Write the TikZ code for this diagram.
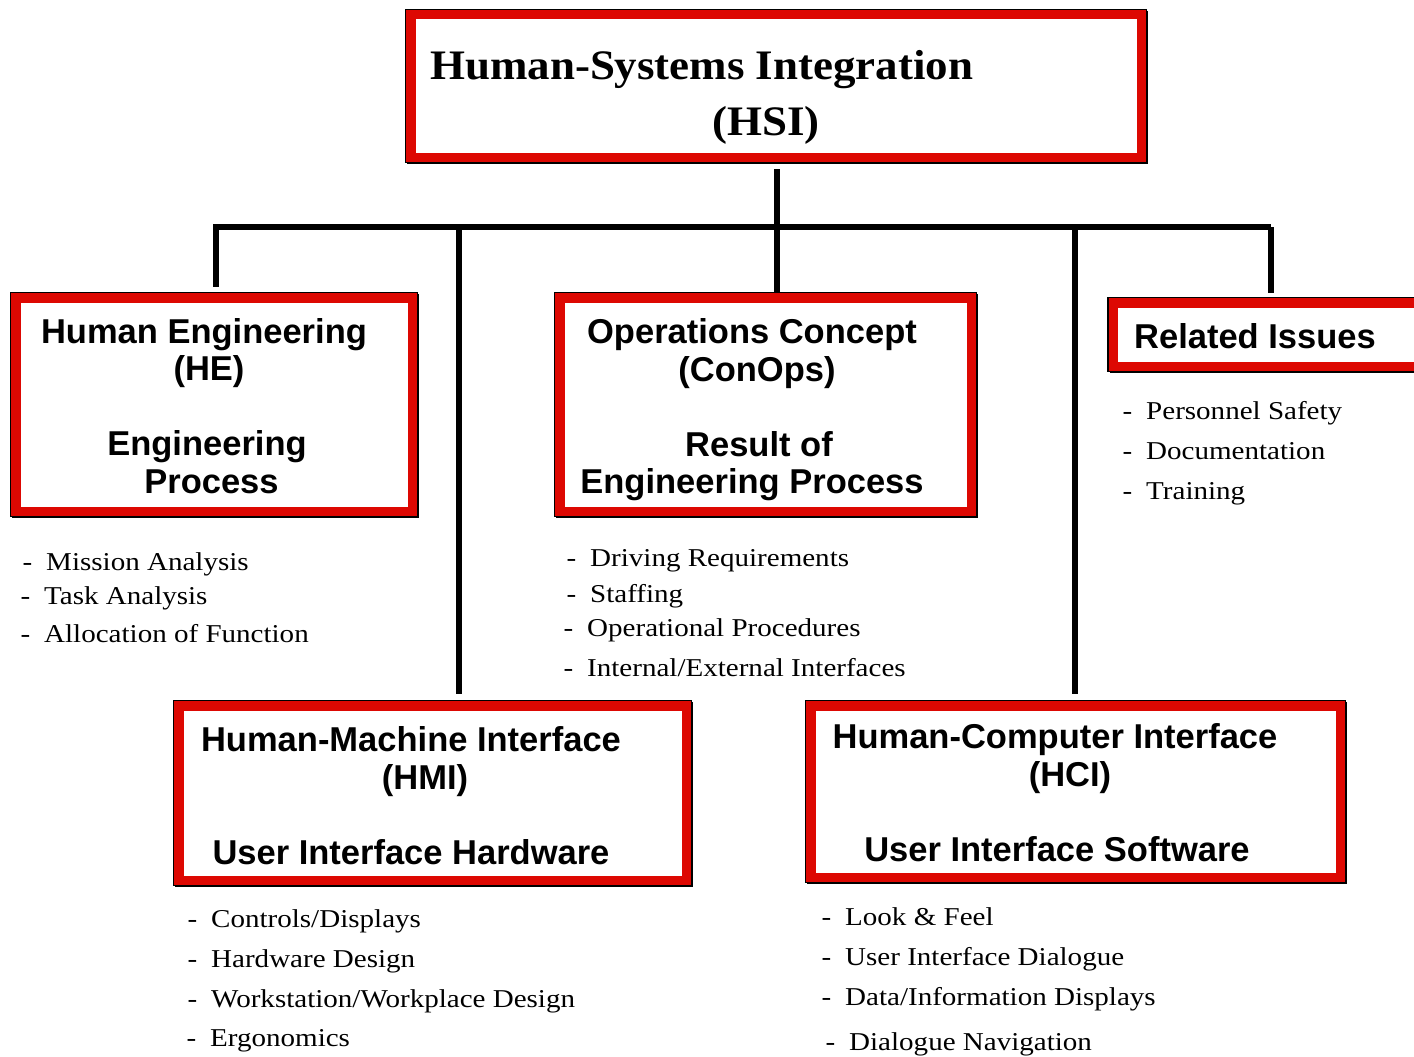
\documentclass[tikz,border=0pt]{standalone}
\usepackage{fontspec}
\setmainfont{Liberation Serif}
\setsansfont{Liberation Sans}
\newfontfamily\listserif[FakeStretch=1.13]{Liberation Serif}
\newfontfamily\titleserif[FakeStretch=1.07]{Liberation Serif}
\usetikzlibrary{positioning}
\definecolor{hsired}{RGB}{221,8,2}
\newcommand\dashmark{\llap{-\hspace{14pt}}}

\begin{document}
\begin{tikzpicture}[
	x=1pt, y=-1pt,
	hsibox/.style={rectangle, draw=black, line width=1.5pt, fill=hsired, inner sep=0pt,
		preaction={fill=black, transform canvas={shift={(1.5pt,-1.5pt)}}},
		path picture={\fill[white] ([shift={(10pt,-10pt)}]path picture bounding box.north west) rectangle ([shift={(-10pt,10pt)}]path picture bounding box.south east);}},
	titletext/.style={inner sep=0pt, font=\titleserif\bfseries\fontsize{42}{50}\selectfont},
	heading/.style={inner sep=0pt, anchor=north, align=center, font=\sffamily\bfseries\fontsize{34.5}{37.5}\selectfont},
	item/.style={inner sep=0pt, anchor=base west, font=\listserif\fontsize{25.7}{30}\selectfont},
	link/.style={line width=6pt}
]
\path[use as bounding box, clip] (0,0) rectangle (1414,1057);

% boxes
\node[hsibox, minimum width=741pt, minimum height=153pt] (hsi) at (776,86) {};
\node[hsibox, minimum width=407pt, minimum height=224pt] (he) at (214,404.5) {};
\node[hsibox, minimum width=422pt, minimum height=224pt] (conops) at (765.5,404.5) {};
\node[hsibox, minimum width=322pt, minimum height=74pt] (rel) at (1269,334.5) {};
\node[hsibox, minimum width=518pt, minimum height=185pt] (hmi) at (432.5,793) {};
\node[hsibox, minimum width=540pt, minimum height=182pt] (hci) at (1075.5,791.5) {};

% box texts
\node[titletext, anchor=base west] (hsi-t1) at (430,80) {Human-Systems Integration};
\node[titletext, anchor=base] (hsi-t2) at (766,135) {(HSI)};
\node[heading] (he-t) at (204,318) {Human Engineering\\\hspace*{10pt}(HE)\\[37.5pt]\hspace*{6pt}Engineering\\\hspace*{15pt}Process};
\node[heading] (conops-t) at (752,318.5) {Operations Concept\\\hspace*{10pt}(ConOps)\\[37.5pt]\hspace*{14pt}Result of\\Engineering Process};
\node[heading] (rel-t) at (1255,323.5) {Related Issues};
\node[heading] (hmi-t) at (411,726.5) {Human-Machine Interface\\\hspace*{28pt}(HMI)\\[37.5pt]User Interface Hardware};
\node[heading] (hci-t) at (1055,723.5) {Human-Computer Interface\\\hspace*{30pt}(HCI)\\[37.5pt]\hspace*{4pt}User Interface Software};

% lists
\node[item] (he-1) at (46,570) {\dashmark Mission Analysis};
\node[item] (he-2) at (44,604) {\dashmark Task Analysis};
\node[item] (he-3) at (44,642) {\dashmark Allocation of Function};
\node[item] (con-1) at (590,566) {\dashmark Driving Requirements};
\node[item] (con-2) at (590,602) {\dashmark Staffing};
\node[item] (con-3) at (587,636) {\dashmark Operational Procedures};
\node[item] (con-4) at (587,676) {\dashmark Internal/External Interfaces};
\node[item] (rel-1) at (1146,419) {\dashmark Personnel Safety};
\node[item] (rel-2) at (1146,459) {\dashmark Documentation};
\node[item] (rel-3) at (1146,499) {\dashmark Training};
\node[item] (hmi-1) at (211,927) {\dashmark Controls/Displays};
\node[item] (hmi-2) at (211,967) {\dashmark Hardware Design};
\node[item] (hmi-3) at (211,1007) {\dashmark Workstation/Workplace Design};
\node[item] (hmi-4) at (210,1046) {\dashmark Ergonomics};
\node[item] (hci-1) at (845,925) {\dashmark Look \& Feel};
\node[item] (hci-2) at (845,965) {\dashmark User Interface Dialogue};
\node[item] (hci-3) at (845,1005) {\dashmark Data/Information Displays};
\node[item] (hci-4) at (849,1050) {\dashmark Dialogue Navigation};

% connectors
\coordinate (busL) at (216,227);
\coordinate (busR) at (1271,227);
\coordinate (bus-con) at (777,227);
\coordinate (bus-hmi) at (459,227);
\coordinate (bus-hci) at (1075,227);
\draw[link] ([yshift=5pt]he.north -| busL) -- (busL) -- (busR);
\draw[link] ([yshift=-6pt]hsi.south -| bus-con) -- (bus-con);
\draw[link] (bus-con) -- (conops.north -| bus-con);
\draw[link] (bus-hmi) -- ([yshift=6pt]hmi.north -| bus-hmi);
\draw[link] (bus-hci) -- ([yshift=6pt]hci.north -| bus-hci);
\draw[link] (busR) -- ([yshift=4pt]rel.north -| busR);
\end{tikzpicture}
\end{document}
